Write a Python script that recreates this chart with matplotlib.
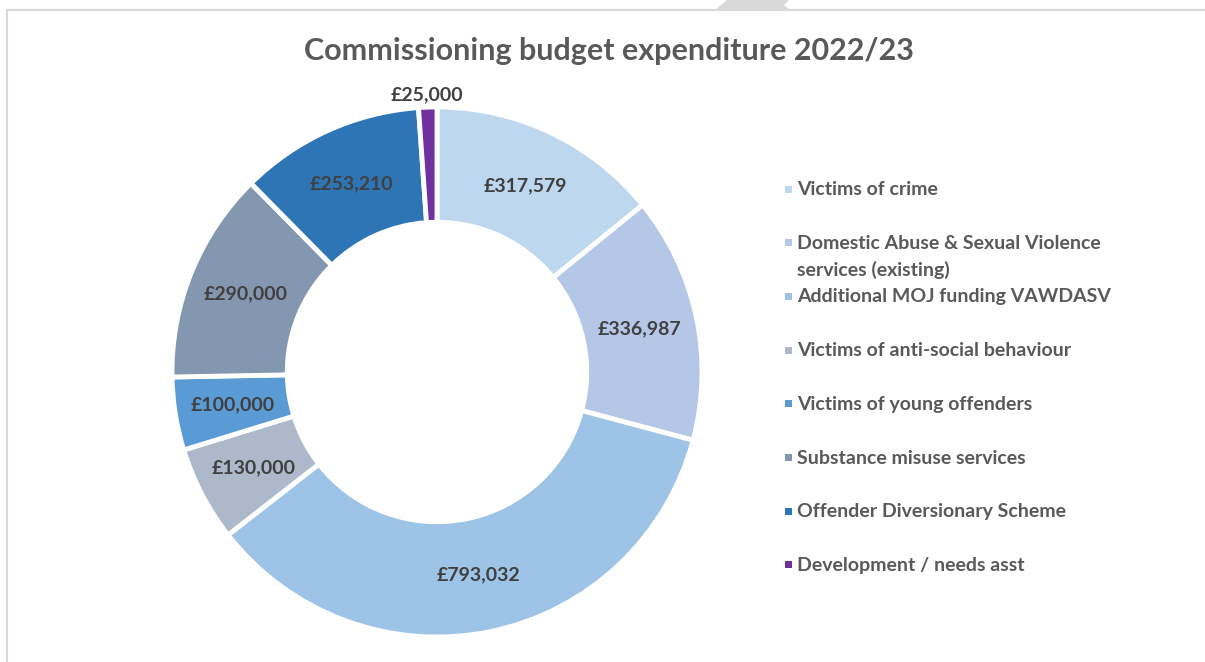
import numpy as np
import matplotlib
matplotlib.use("Agg")
import matplotlib.pyplot as plt
from matplotlib.patches import Polygon, Rectangle

# Data
categories = [
    "Victims of crime",
    "Domestic Abuse & Sexual Violence\nservices (existing)",
    "Additional MOJ funding VAWDASV",
    "Victims of anti-social behaviour",
    "Victims of young offenders",
    "Substance misuse services",
    "Offender Diversionary Scheme",
    "Development / needs asst",
]
values = [317579, 336987, 793032, 130000, 100000, 290000, 253210, 25000]
colors = ["#BDD7EE", "#B4C7E7", "#9DC3E6", "#ADB9CA",
          "#5B9BD5", "#8497B0", "#2E75B6", "#7030A0"]
title = "Commissioning budget expenditure 2022/23"

plt.rcParams['font.family'] = ['Lato', 'DejaVu Sans']

W, H = 1205, 662
fig = plt.figure(figsize=(W / 100, H / 100), dpi=100)

# frame lines and the grey shape at the top edge
fig.add_artist(plt.Line2D([7 / W, 7 / W], [0, 1 - 10 / H], color="#D9D9D9", lw=1.5,
                          transform=fig.transFigure))
fig.add_artist(plt.Line2D([7 / W, 1], [1 - 10 / H, 1 - 10 / H], color="#D9D9D9", lw=1.5,
                          transform=fig.transFigure))
shape = [(715, 10), (727, 0), (789, 0), (784, 5), (790, 10)]
fig.add_artist(Polygon([(x / W, 1 - y / H) for x, y in shape], closed=True,
                       facecolor="#D9D9D9", edgecolor="none", transform=fig.transFigure))

# donut: centre (437, 372) px, outer radius 265 px
cx, cy, r = 437, 372, 265
lim = 1.12
half = r * lim
ax = fig.add_axes([(cx - half) / W, (H - cy - half) / H, 2 * half / W, 2 * half / H])

wedges, _ = ax.pie(values, colors=colors, startangle=90, counterclock=False,
                   radius=1.0, wedgeprops=dict(width=0.435, edgecolor="white", linewidth=3.5))
ax.set_xlim(-lim, lim)
ax.set_ylim(-lim, lim)
ax.axis("off")

# data labels
total = sum(values)
start = 90.0
for i, v in enumerate(values):
    mid = np.deg2rad(start - 360.0 * v / total / 2)
    start -= 360.0 * v / total
    rr = 0.78
    if v / total < 0.02:
        rr = 1.045
    ax.text(rr * np.cos(mid), rr * np.sin(mid), "£{:,}".format(v), ha="center", va="center",
            fontsize=14, fontweight="bold", color="#404040")

fig.text(0.505, 1 - 51 / H, title, ha="center", va="center", fontsize=22,
         fontweight="bold", color="#595959")

# legend drawn by hand
y0, step = 189, 53.7
for i, (lab, col) in enumerate(zip(categories, colors)):
    y = y0 + i * step
    fig.add_artist(Rectangle(((785) / W, 1 - (y + 3.5) / H), 7 / W, 7 / H,
                             facecolor=col, edgecolor="none", transform=fig.transFigure))
    fig.text(797 / W, 1 - (y - 8) / H, lab, ha="left", va="top", fontsize=14,
             fontweight="bold", color="#595959", linespacing=1.6)

fig.savefig("out.png", dpi=100)
